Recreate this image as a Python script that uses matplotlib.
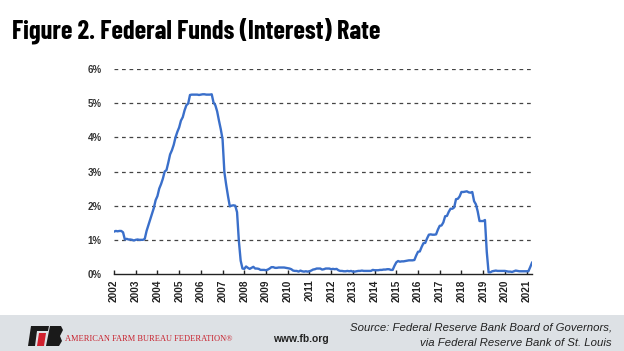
import matplotlib
matplotlib.use('Agg')
import matplotlib.pyplot as plt
from matplotlib.patches import Rectangle, Polygon

# Monthly federal funds rate (%)
RATE = [
    1.24, 1.26, 1.25, 1.26, 1.26, 1.22, 1.01, 1.03, 1.01, 1.01, 1.00, 0.98,
    1.00, 1.01, 1.00, 1.00, 1.00, 1.03, 1.26, 1.43, 1.61, 1.76, 1.93, 2.16,
    2.28, 2.50, 2.63, 2.79, 3.00, 3.04, 3.26, 3.50, 3.62, 3.78, 4.00, 4.16,
    4.29, 4.49, 4.59, 4.79, 4.94, 4.99, 5.24, 5.25, 5.25, 5.25, 5.25, 5.24,
    5.25, 5.26, 5.26, 5.25, 5.25, 5.25, 5.26, 5.02, 4.94, 4.76, 4.49, 4.24,
    3.94, 2.98, 2.61, 2.28, 1.98, 2.00, 2.01, 2.00, 1.81, 0.97, 0.39, 0.16,
    0.15, 0.22, 0.18, 0.15, 0.18, 0.21, 0.16, 0.16, 0.15, 0.12, 0.12, 0.12,
    0.11, 0.13, 0.16, 0.20, 0.20, 0.18, 0.18, 0.19, 0.19, 0.19, 0.19, 0.18,
    0.17, 0.16, 0.14, 0.10, 0.09, 0.09, 0.07, 0.10, 0.08, 0.07, 0.08, 0.07,
    0.08, 0.10, 0.13, 0.14, 0.16, 0.16, 0.16, 0.13, 0.14, 0.16, 0.16, 0.16,
    0.14, 0.15, 0.14, 0.15, 0.11, 0.09, 0.09, 0.08, 0.08, 0.09, 0.08, 0.09,
    0.07, 0.07, 0.08, 0.09, 0.09, 0.10, 0.09, 0.09, 0.09, 0.09, 0.09, 0.12,
    0.11, 0.11, 0.11, 0.12, 0.12, 0.13, 0.13, 0.14, 0.14, 0.12, 0.12, 0.24,
    0.34, 0.38, 0.36, 0.37, 0.37, 0.38, 0.39, 0.40, 0.40, 0.40, 0.41, 0.54,
    0.65, 0.66, 0.79, 0.90, 0.91, 1.04, 1.15, 1.16, 1.15, 1.15, 1.16, 1.30,
    1.41, 1.42, 1.51, 1.69, 1.70, 1.82, 1.91, 1.91, 1.95, 2.19, 2.20, 2.27,
    2.40, 2.40, 2.41, 2.42, 2.39, 2.38, 2.40, 2.13, 2.04, 1.83, 1.55, 1.55,
    1.55, 1.58, 0.65, 0.05, 0.05, 0.08, 0.09, 0.10, 0.09, 0.09, 0.09, 0.09,
    0.09, 0.08, 0.07, 0.07, 0.06, 0.08, 0.10, 0.09, 0.08, 0.08, 0.08, 0.08,
    0.08, 0.08, 0.20, 0.33,
]
YEARS = [str(y) for y in range(2002, 2022)]
Y_TICKS = [0, 1, 2, 3, 4, 5, 6]

BLUE = '#3a6fca'
GREY_BAND = '#dde1e5'
CONDENSED = ['Barlow Condensed', 'Archivo Narrow', 'Liberation Sans']

fig = plt.figure(figsize=(6.24, 3.51), dpi=100)
fig.patch.set_facecolor('white')

ax = fig.add_axes([114 / 624, 77 / 351, 418 / 624, 205 / 351])
x = list(range(len(RATE)))
ax.plot(x, RATE, color=BLUE, lw=1.7, solid_joinstyle='round', zorder=3)

ax.set_xlim(0, len(RATE) - 1)
ax.set_ylim(0, 6)
ax.set_yticks(Y_TICKS)
ax.set_yticklabels([f'{v}%' for v in Y_TICKS], fontsize=7, fontweight='bold',
                   color='#333333', family='Liberation Sans')
ax.set_xticks(range(0, 12 * len(YEARS), 12))
ax.set_xticklabels(YEARS, rotation=90, fontsize=7.2, fontweight='bold',
                   color='#222222', family='Liberation Sans')

for v in Y_TICKS[1:]:
    ax.axhline(v, color='#444444', lw=0.9, ls=(0, (3, 3)), zorder=1)

for s in ['top', 'right', 'left']:
    ax.spines[s].set_visible(False)
ax.spines['bottom'].set_color('#222222')
ax.spines['bottom'].set_linewidth(1.0)
ax.tick_params(axis='y', length=0, pad=9)
ax.tick_params(axis='x', direction='in', length=3, width=1, color='#222222', pad=4)

# title
fig.text(12 / 624, 1 - 31 / 351, 'Figure 2. Federal Funds (Interest) Rate',
         fontsize=19, fontweight='bold', family=CONDENSED,
         va='center', ha='left', color='black')

# footer band
fig.add_artist(Rectangle((0, 0), 1, 36 / 351, transform=fig.transFigure,
                         facecolor=GREY_BAND, edgecolor='none', zorder=0))

# logo: slanted black blocks with a red bar
fig.add_artist(Polygon([(28 / 624, 1 - 346 / 351), (31 / 624, 1 - 326 / 351),
                        (49 / 624, 1 - 326 / 351), (48 / 624, 1 - 331 / 351),
                        (37 / 624, 1 - 331 / 351), (35 / 624, 1 - 346 / 351)],
                       closed=True, transform=fig.transFigure,
                       facecolor='#1a1a1a', edgecolor='none', zorder=5))
fig.add_artist(Polygon([(37 / 624, 1 - 346 / 351), (39 / 624, 1 - 333 / 351),
                        (46 / 624, 1 - 333 / 351), (44 / 624, 1 - 346 / 351)],
                       closed=True, transform=fig.transFigure,
                       facecolor='#d0202e', edgecolor='none', zorder=5))
fig.add_artist(Polygon([(46 / 624, 1 - 346 / 351), (50 / 624, 1 - 326 / 351),
                        (61 / 624, 1 - 326 / 351), (63 / 624, 1 - 330 / 351),
                        (60 / 624, 1 - 336 / 351), (62 / 624, 1 - 341 / 351),
                        (59 / 624, 1 - 346 / 351)],
                       closed=True, transform=fig.transFigure,
                       facecolor='#1a1a1a', edgecolor='none', zorder=5))

fig.text(65 / 624, 1 - 339 / 351, 'AMERICAN FARM BUREAU FEDERATION\u00ae', fontsize=6.0,
         color='#c8202c', family='Liberation Serif', va='center', ha='left')
fig.text(273 / 624, 1 - 339 / 351, 'www.fb.org', fontsize=7.4, fontweight='bold',
         color='#222222', va='center', ha='left', family='Liberation Sans')
fig.text(612 / 624, 1 - 328 / 351, 'Source: Federal Reserve Bank Board of Governors,',
         fontsize=8.2, style='italic', color='#222222', va='center', ha='right',
         family='Liberation Sans')
fig.text(612 / 624, 1 - 343 / 351, 'via Federal Reserve Bank of St. Louis',
         fontsize=8.2, style='italic', color='#222222', va='center', ha='right',
         family='Liberation Sans')

fig.savefig('out.png', dpi=100)
